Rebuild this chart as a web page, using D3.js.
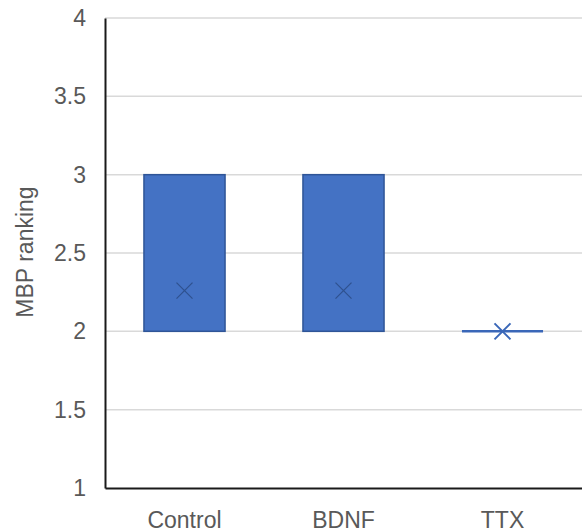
<!DOCTYPE html>
<html><head><meta charset="utf-8">
<script src="https://cdn.jsdelivr.net/npm/d3@7"></script>
<style>body{margin:0;background:#fff}svg{display:block}</style>
</head><body>
<script>
const categories = ["Control", "BDNF", "TTX"];
const q1 = [2, 2, 2];
const q3 = [3, 3, 2];
const means = [2.26, 2.26, 2];
const yTicks = [1, 1.5, 2, 2.5, 3, 3.5, 4];

const W = 582, H = 532;
const m = {left: 105, right: 0, top: 18, bottom: 44};
const FONT = "Liberation Sans, Arial, sans-serif";
const svg = d3.select("body").append("svg").attr("width", W).attr("height", H);

const x = d3.scaleBand().domain(categories).range([m.left, W - m.right]).paddingInner(0.49).paddingOuter(0.245);
const y = d3.scaleLinear().domain([1, 4]).range([H - m.bottom, m.top]);

// gridlines
svg.append("g").selectAll("line").data(yTicks.filter(d => d > 1)).join("line")
  .attr("x1", m.left).attr("x2", W - m.right)
  .attr("y1", d => y(d)).attr("y2", d => y(d))
  .attr("stroke", "#d9d9d9").attr("stroke-width", 1.5);

// y axis
const yAxis = d3.axisLeft(y).tickValues(yTicks).tickSize(0).tickPadding(19).tickFormat(d3.format("~g"));
const gy = svg.append("g").attr("transform", `translate(${m.left},0)`).call(yAxis);
gy.select(".domain").attr("stroke", "#1a1a1a").attr("stroke-width", 2);
gy.selectAll("text").attr("fill", "#595959").style("font-family", FONT).style("font-size", "23px");

// x axis
const xAxis = d3.axisBottom(x).tickSize(0).tickPadding(24);
const gx = svg.append("g").attr("transform", `translate(0,${H - m.bottom})`).call(xAxis);
gx.select(".domain").attr("stroke", "#1a1a1a").attr("stroke-width", 2);
gx.selectAll("text").attr("fill", "#595959").style("font-family", FONT).style("font-size", "23px");

// y label
svg.append("text").attr("transform", `translate(33,${252}) rotate(-90)`)
  .attr("text-anchor", "middle").attr("fill", "#595959")
  .style("font-family", FONT).style("font-size", "23px")
  .text("MBP ranking");

// boxes
const data = categories.map((c, i) => ({c, q1: q1[i], q3: q3[i], mean: means[i]}));
const bw = x.bandwidth();
svg.append("g").selectAll("g").data(data).join("g").each(function(d) {
  const g = d3.select(this);
  const x0 = x(d.c);
  const cx = x0 + bw / 2, cy = y(d.mean), s = 8;
  if (d.q3 > d.q1) {
    g.append("rect").attr("x", x0).attr("y", y(d.q3)).attr("width", bw).attr("height", y(d.q1) - y(d.q3))
      .attr("fill", "#4472c4").attr("stroke", "#2f5597").attr("stroke-width", 1.5);
    g.append("path").attr("d", `M${cx - s},${cy - s}L${cx + s},${cy + s}M${cx - s},${cy + s}L${cx + s},${cy - s}`)
      .attr("stroke", "#2f528f").attr("stroke-width", 1.3).attr("fill", "none");
  } else {
    g.append("line").attr("x1", x0).attr("x2", x0 + bw).attr("y1", y(d.q1)).attr("y2", y(d.q1))
      .attr("stroke", "#3a67b8").attr("stroke-width", 2.5);
    g.append("path").attr("d", `M${cx - s},${cy - s}L${cx + s},${cy + s}M${cx - s},${cy + s}L${cx + s},${cy - s}`)
      .attr("stroke", "#3a67b8").attr("stroke-width", 2).attr("fill", "none");
  }
});
</script>
</body></html>
